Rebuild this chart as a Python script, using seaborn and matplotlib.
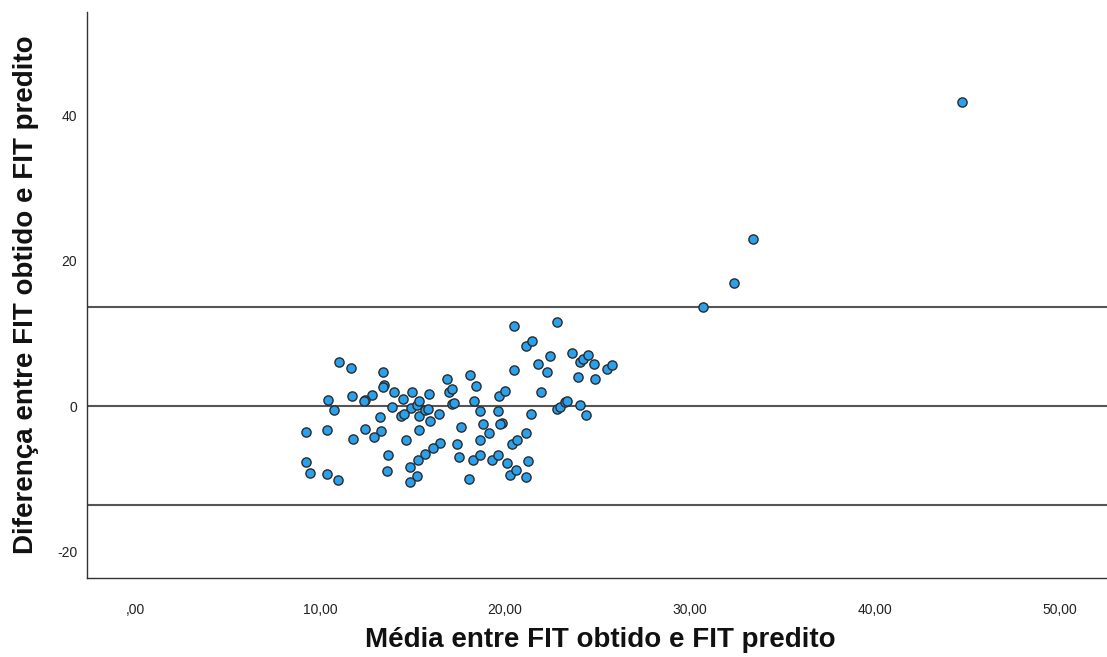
import matplotlib
matplotlib.use("Agg")
import matplotlib.pyplot as plt
import seaborn as sns
import pandas as pd

# Mean of the two FIT measurements (x) and their difference (y)
media_fit = [
    20.49, 21.14, 21.48, 21.80, 11.03, 11.66, 13.39, 20.49, 16.85, 18.11,
    18.42, 13.46, 13.39, 11.73, 12.83, 12.45, 12.38, 10.42, 10.77, 14.02,
    14.96, 14.50, 15.87, 16.96, 17.15, 17.12, 17.23, 18.32, 19.69, 20.00,
    21.93, 13.91, 14.92, 15.24, 15.33, 14.38, 14.52, 15.33, 15.68, 15.84,
    16.43, 18.65, 19.64, 21.41, 13.26, 15.95, 18.79, 19.84, 19.75, 9.26,
    10.38, 12.43, 13.30, 12.92, 11.77, 14.65, 15.35, 17.60, 19.14, 18.65,
    21.14, 20.40, 20.65, 17.42, 16.49, 16.09, 15.68, 15.32, 13.66, 9.23,
    9.46, 10.38, 10.99, 13.60, 14.86, 15.26, 14.86, 17.51, 18.29, 18.65,
    19.28, 19.64, 20.09, 21.23, 20.27, 20.61, 21.14, 18.04,
    30.72, 22.79, 22.43, 22.29, 23.60, 24.05, 24.20, 24.47, 24.83, 23.96,
    24.86, 25.50, 25.77, 22.79, 22.97, 23.24, 23.34, 24.05, 24.38,
    32.38, 33.42, 44.72,
]
diferenca_fit = [
    11.05, 8.30, 8.98, 5.73, 6.01, 5.27, 4.72, 5.00, 3.71, 4.22,
    2.75, 2.93, 2.65, 1.38, 1.56, 0.83, 0.64, 0.83, -0.50, 1.97,
    1.93, 1.01, 1.70, 1.97, 2.29, 0.23, 0.41, 0.73, 1.33, 2.02,
    1.97, -0.18, -0.28, 0.14, 0.73, -1.33, -1.06, -1.33, -0.59, -0.41,
    -1.10, -0.69, -0.69, -1.14, -1.51, -2.10, -2.43, -2.38, -2.52, -3.53,
    -3.30, -3.21, -3.44, -4.22, -4.54, -4.72, -3.35, -2.84, -3.76, -4.72,
    -3.76, -5.23, -4.72, -5.27, -5.13, -5.82, -6.64, -7.47, -6.70, -7.66,
    -9.26, -9.35, -10.18, -8.90, -8.35, -9.59, -10.41, -7.06, -7.47, -6.70,
    -7.47, -6.70, -7.84, -7.57, -9.45, -8.85, -9.77, -10.00,
    13.66, 11.60, 6.92, 4.63, 7.33, 6.09, 6.42, 7.02, 5.73, 3.99,
    3.76, 5.09, 5.64, -0.41, -0.09, 0.59, 0.73, 0.14, -1.24,
    16.92, 23.01, 41.77,
]

# Mean difference and limits of agreement
media_diferenca = 0.0
limite_superior = 13.66
limite_inferior = -13.62

x_ticks = [0, 10, 20, 30, 40, 50]
x_tick_labels = [",00", "10,00", "20,00", "30,00", "40,00", "50,00"]
y_ticks = [-20, 0, 20, 40]
y_tick_labels = ["-20", "0", "20", "40"]

df = pd.DataFrame({"media": media_fit, "diferenca": diferenca_fit})

sns.set_style("white")
plt.rcParams["font.family"] = ["Liberation Sans", "DejaVu Sans"]

fig = plt.figure(figsize=(11.07, 6.57), dpi=100)
ax = fig.add_axes([87 / 1107, 1 - 578 / 657, 1 - 87 / 1107, (578 - 12) / 657])

for yv in (limite_superior, media_diferenca, limite_inferior):
    ax.axhline(yv, color="#555555", lw=1.5, zorder=1)

sns.scatterplot(data=df, x="media", y="diferenca", ax=ax, s=44,
                color="#2aa1ec", edgecolor="#2b2b2b", linewidth=1.0,
                zorder=3, legend=False)

ax.set_xlim(-2.6, 52.55)
ax.set_ylim(-23.66, 54.2)

ax.set_xticks(x_ticks)
ax.set_xticklabels(x_tick_labels)
ax.set_yticks(y_ticks)
ax.set_yticklabels(y_tick_labels)
ax.tick_params(axis="x", length=0, pad=18, labelsize=10, labelcolor="#222222")
ax.tick_params(axis="y", length=0, pad=7, labelsize=10, labelcolor="#222222")

for side in ("top", "right"):
    ax.spines[side].set_visible(False)
for side in ("left", "bottom"):
    ax.spines[side].set_color("#333333")
    ax.spines[side].set_linewidth(1.0)

ax.set_xlabel("Média entre FIT obtido e FIT predito", fontsize=20,
              fontweight="bold", color="#111111", va="center")
ax.set_ylabel("Diferença entre FIT obtido e FIT predito", fontsize=20,
              fontweight="bold", color="#111111", va="center")
ax.xaxis.set_label_coords(0.503, -0.110)
ax.yaxis.set_label_coords(-0.060, 0.5)

fig.savefig("out.png", dpi=100)
